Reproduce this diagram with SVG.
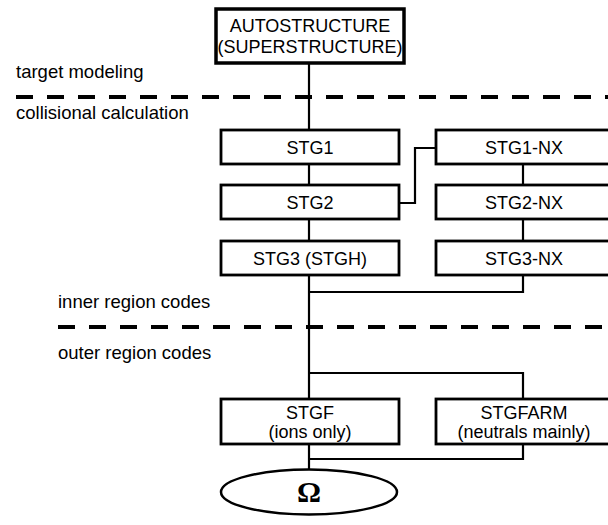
<svg xmlns="http://www.w3.org/2000/svg" width="608" height="525" viewBox="0 0 608 525">
<style>
  .box { fill: #fff; stroke: #000; stroke-width: 2.8; }
  .top { fill: #fff; stroke: #000; stroke-width: 3.5; }
  .lbl { font-family: "Liberation Sans", Arial, sans-serif; font-size: 18px; fill: #000; text-anchor: middle; }
  .side { font-family: "Liberation Sans", Arial, sans-serif; font-size: 18.5px; fill: #000; }
  .dash { stroke: #000; stroke-width: 4; stroke-dasharray: 17 14; fill: none; }
  .conn { stroke: #000; stroke-width: 2.2; fill: none; }
</style>
<rect width="608" height="525" fill="#fff"/>
<g id="separators">
  <line class="dash" x1="16" y1="97" x2="608" y2="97"/>
  <line class="dash" x1="58" y1="327" x2="608" y2="327"/>
</g>
<g id="region-labels">
  <text class="side" x="16" y="78">target modeling</text>
  <text class="side" x="16" y="119">collisional calculation</text>
  <text class="side" x="58" y="308">inner region codes</text>
  <text class="side" x="58" y="359">outer region codes</text>
</g>
<g id="connectors">
  <polyline class="conn" points="309,63 309,130"/>
  <polyline class="conn" points="309,164 309,185"/>
  <polyline class="conn" points="309,219 309,241"/>
  <polyline class="conn" points="399,203 415,203 415,148 436,148"/>
  <polyline class="conn" points="523,164 523,185"/>
  <polyline class="conn" points="523,219 523,241"/>
  <polyline class="conn" points="309,275 309,399"/>
  <polyline class="conn" points="309,292 523,292 523,275"/>
  <polyline class="conn" points="309,373 523,373 523,399"/>
  <polyline class="conn" points="309,444 309,470"/>
  <polyline class="conn" points="309,459 523,459 523,444"/>
</g>
<g id="autostructure">
  <rect class="top" x="216" y="9" width="188" height="54"/>
  <text class="lbl" x="310" y="32">AUTOSTRUCTURE</text>
  <text class="lbl" x="310" y="53">(SUPERSTRUCTURE)</text>
</g>
<g id="stg1">
  <rect class="box" x="221" y="130" width="178" height="34"/>
  <text class="lbl" x="310" y="153.5">STG1</text>
</g>
<g id="stg2">
  <rect class="box" x="221" y="185" width="178" height="34"/>
  <text class="lbl" x="310" y="208.5">STG2</text>
</g>
<g id="stg3">
  <rect class="box" x="221" y="241" width="178" height="34"/>
  <text class="lbl" x="310" y="264.5">STG3 (STGH)</text>
</g>
<g id="stg1-nx">
  <rect class="box" x="436" y="130" width="178" height="34"/>
  <text class="lbl" x="524" y="153.5">STG1-NX</text>
</g>
<g id="stg2-nx">
  <rect class="box" x="436" y="185" width="178" height="34"/>
  <text class="lbl" x="524" y="208.5">STG2-NX</text>
</g>
<g id="stg3-nx">
  <rect class="box" x="436" y="241" width="178" height="34"/>
  <text class="lbl" x="524" y="264.5">STG3-NX</text>
</g>
<g id="stgf">
  <rect class="box" x="221" y="399" width="178" height="45"/>
  <text class="lbl" x="310" y="419">STGF</text>
  <text class="lbl" x="310" y="438">(ions only)</text>
</g>
<g id="stgfarm">
  <rect class="box" x="436" y="399" width="178" height="45"/>
  <text class="lbl" x="524" y="419">STGFARM</text>
  <text class="lbl" x="524" y="438">(neutrals mainly)</text>
</g>
<g id="omega">
  <ellipse cx="309" cy="492" rx="88" ry="22.5" fill="#fff" stroke="#000" stroke-width="2.5"/>
  <text x="309" y="502" text-anchor="middle" font-family="Liberation Serif, 'Times New Roman', serif" font-weight="bold" font-size="30">Ω</text>
</g>
</svg>
